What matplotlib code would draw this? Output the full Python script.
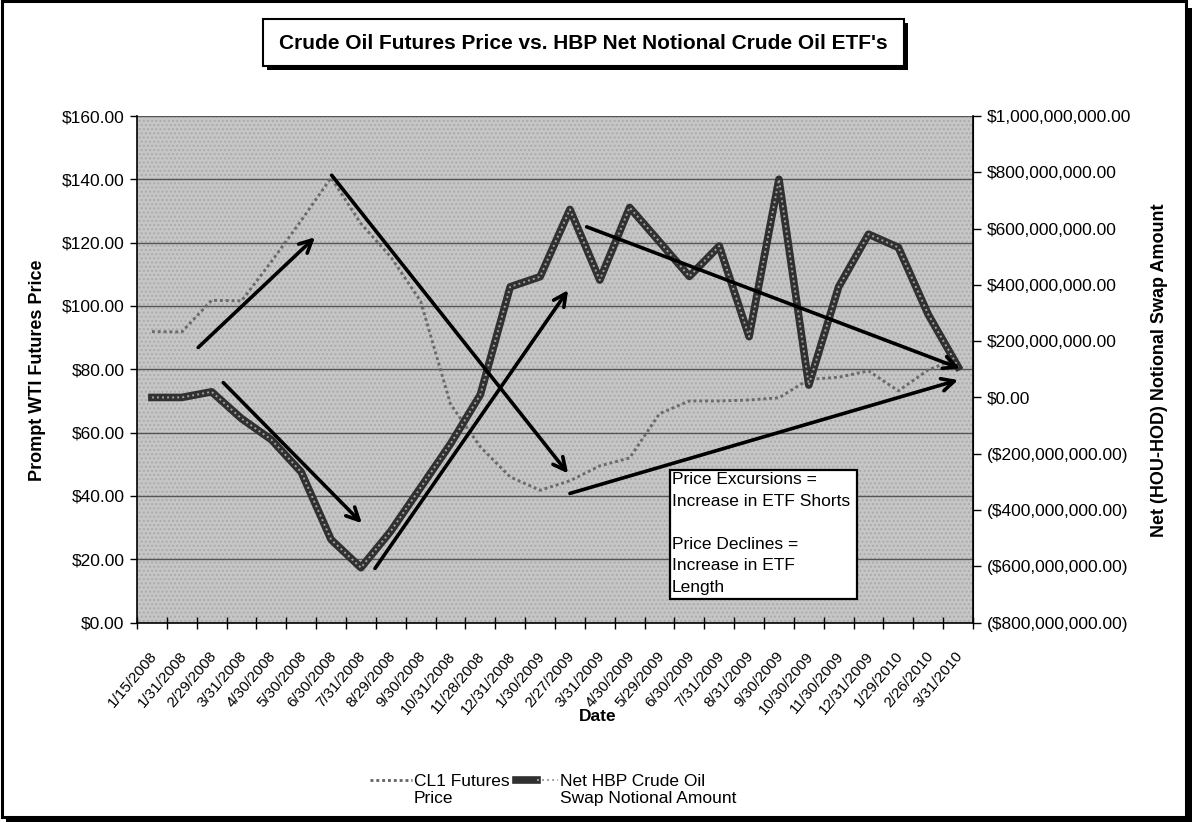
import matplotlib
matplotlib.use('Agg')
import matplotlib.pyplot as plt
import numpy as np
from matplotlib.patches import Rectangle
from matplotlib.ticker import FuncFormatter, FixedLocator
from matplotlib.legend_handler import HandlerTuple
from matplotlib.transforms import ScaledTranslation

plt.rcParams['font.family'] = ['Liberation Sans', 'DejaVu Sans']

# ---------------- data ----------------
dates = ["1/15/2008", "1/31/2008", "2/29/2008", "3/31/2008", "4/30/2008", "5/30/2008",
         "6/30/2008", "7/31/2008", "8/29/2008", "9/30/2008", "10/31/2008", "11/28/2008",
         "12/31/2008", "1/30/2009", "2/27/2009", "3/31/2009", "4/30/2009", "5/29/2009",
         "6/30/2009", "7/31/2009", "8/31/2009", "9/30/2009", "10/30/2009", "11/30/2009",
         "12/31/2009", "1/29/2010", "2/26/2010", "3/31/2010"]

cl1_price = [91.9, 91.8, 101.8, 101.6, 114.0, 127.0, 140.5, 126.0, 115.5, 101.5,
             69.0, 55.5, 46.0, 41.8, 44.8, 49.5, 52.0, 66.0, 70.0, 70.0,
             70.3, 71.0, 76.8, 77.5, 79.5, 73.2, 79.8, 83.5]

net_notional = [0, 0, 20e6, -75e6, -150e6, -265e6, -505e6, -605e6, -475e6, -320e6,
                -165e6, 10e6, 393e6, 429e6, 668e6, 417e6, 675e6, 553e6, 430e6, 538e6,
                216e6, 775e6, 44e6, 393e6, 580e6, 533e6, 295e6, 109e6]

price_ticks = [0, 20, 40, 60, 80, 100, 120, 140, 160]
notional_ticks = [-800e6, -600e6, -400e6, -200e6, 0, 200e6, 400e6, 600e6, 800e6, 1000e6]

# annotation arrows: (x_start, price_start, x_end, price_end) in category / price units
arrows = [
    (1.55, 86.9, 5.46, 121.7),
    (6.02, 141.3, 13.94, 47.1),
    (2.39, 75.8, 7.03, 31.4),
    (7.47, 17.1, 13.94, 105.0),
    (14.0, 40.8, 27.0, 76.6),
    (14.56, 125.0, 27.06, 80.3),
]

title = "Crude Oil Futures Price vs. HBP Net Notional Crude Oil ETF's"
note = "Price Excursions =\nIncrease in ETF Shorts\n\nPrice Declines =\nIncrease in ETF\nLength"

# ---------------- figure ----------------
W, H = 1192, 822
fig = plt.figure(figsize=(W / 100, H / 100), dpi=100)
fig.patch.set_facecolor('white')

def fx(px):
    return px / W

def fy(py):
    return 1 - py / H

L, R, T, B = 137, 973, 116, 622.6
ax = fig.add_axes([fx(L), fy(B), fx(R) - fx(L), fy(T) - fy(B)])
ax.set_facecolor('#c6c6c6')
ax.patch.set_hatch('....')
ax.patch.set_edgecolor('#ababab')
ax.patch.set_linewidth(0)

x = np.arange(len(dates))
ax.set_xlim(-0.5, len(dates) - 0.5)
ax.set_ylim(0, 160)

ax2 = ax.twinx()
ax2.set_ylim(-800e6, 1000e6)

# gridlines
ax.yaxis.set_major_locator(FixedLocator(price_ticks))
ax.grid(True, axis='y', color='#555555', linewidth=1.0)
ax.set_axisbelow(True)

# spines
for a in (ax, ax2):
    a.spines['top'].set_visible(False)
ax.spines['left'].set_linewidth(1.2)
ax.spines['bottom'].set_linewidth(1.2)
ax2.spines['right'].set_linewidth(1.2)
ax2.spines['left'].set_visible(False)
ax2.spines['bottom'].set_visible(False)

# series
l_cl1, = ax.plot(x, cl1_price, color='#6a6a6a', lw=2.1, ls=(0, (1, 1)), zorder=3)
l_net_outer, = ax2.plot(x, net_notional, color='#303030', lw=5.5, solid_joinstyle='round',
                        zorder=3)
l_net_inner, = ax2.plot(x, net_notional, color='#a0a0a0', lw=1.4, ls=(0, (1, 1.6)), zorder=4)

# arrows
for (x0, p0, x1, p1) in arrows:
    ax2.annotate('', xy=(x1, p1), xytext=(x0, p0),
                 xycoords=ax.transData, textcoords=ax.transData,
                 arrowprops=dict(arrowstyle='->,head_length=0.9,head_width=0.45',
                                 color='black', lw=2.6, shrinkA=0, shrinkB=0),
                 zorder=6)

# ticks
tick_fs = 12.5
ax.yaxis.set_major_formatter(FuncFormatter(lambda v, p: f"${v:.2f}"))
ax.tick_params(axis='y', which='major', length=5, direction='out', width=1,
               labelsize=tick_fs, pad=4)

def money(v, p=None):
    if v < 0:
        return f"(${abs(v):,.2f})"
    return f"${v:,.2f}"

ax2.yaxis.set_major_locator(FixedLocator(notional_ticks))
ax2.yaxis.set_major_formatter(FuncFormatter(money))
ax2.tick_params(axis='y', which='major', length=6, direction='out', width=1,
                labelsize=tick_fs, pad=4)

ax.set_xticks(x)
ax.set_xticklabels(dates, rotation=50, ha='right', rotation_mode='anchor', fontsize=11)
ax.tick_params(axis='x', which='major', length=0, pad=19)
shift = ScaledTranslation(-3 / 100, 0, fig.dpi_scale_trans)
for lab in ax.get_xticklabels():
    lab.set_transform(lab.get_transform() + shift)
ax.set_xticks(np.arange(-0.5, len(dates), 1.0), minor=True)
ax.tick_params(axis='x', which='minor', length=8, direction='inout', width=1)

# axis labels
fig.text(fx(38), fy(370), "Prompt WTI Futures Price", rotation=90, ha='center', va='center',
         fontsize=13, fontweight='bold')
fig.text(fx(1160), fy(370), "Net (HOU-HOD) Notional Swap Amount", rotation=90,
         ha='center', va='center', fontsize=13, fontweight='bold')
fig.text(fx(598), fy(716), "Date", ha='center', va='center', fontsize=12.5, fontweight='bold')

# annotation text box
bx0, by0, bx1, by1 = 669.5, 470, 856.5, 599
fig.patches.append(Rectangle((fx(bx0), fy(by1)), fx(bx1) - fx(bx0), fy(by0) - fy(by1),
                             transform=fig.transFigure, facecolor='white',
                             edgecolor='black', lw=1.6, zorder=7))
fig.text(fx(672), fy(472), note, ha='left', va='top', fontsize=12.5,
         linespacing=1.55, zorder=8)

# title box with shadow
tx0, ty0, tx1, ty1 = 263, 19, 904, 66
fig.patches.append(Rectangle((fx(tx0 + 4), fy(ty1 + 4)), fx(tx1) - fx(tx0), fy(ty0) - fy(ty1),
                             transform=fig.transFigure, facecolor='black', edgecolor='none'))
fig.patches.append(Rectangle((fx(tx0), fy(ty1)), fx(tx1) - fx(tx0), fy(ty0) - fy(ty1),
                             transform=fig.transFigure, facecolor='white', edgecolor='black', lw=1.5))
fig.text(fx((tx0 + tx1) / 2), fy((ty0 + ty1) / 2 + 1), title, ha='center', va='center',
         fontsize=15, fontweight='bold')


class TopAlignedTuple(HandlerTuple):
    """Place the legend sample level with the first line of a two-line label."""
    def create_artists(self, legend, orig_handle, xdescent, ydescent, width, height,
                       fontsize, trans):
        return super().create_artists(legend, orig_handle, xdescent,
                                      ydescent - 1.15 * fontsize, width, height,
                                      fontsize, trans)


# legend
leg = fig.legend([(l_cl1,), (l_net_outer, l_net_inner)],
                 ["CL1 Futures\nPrice", "Net HBP Crude Oil\nSwap Notional Amount"],
                 handler_map={tuple: TopAlignedTuple(ndivide=None, pad=0)},
                 loc='center', bbox_to_anchor=(fx(553), fy(790)), ncol=2, frameon=False,
                 fontsize=12.5, handlelength=2.4, handletextpad=0.1, columnspacing=0.4,
                 borderaxespad=0)

# outer chart frame with shadow
fig.patches.append(Rectangle((fx(1.5), fy(817)), fx(1186) - fx(1.5), fy(1.5) - fy(817),
                             transform=fig.transFigure, facecolor='none', edgecolor='black', lw=2.2))
fig.patches.append(Rectangle((fx(1186), fy(822)), fx(6), fy(0) - fy(814),
                             transform=fig.transFigure, facecolor='black', edgecolor='none'))
fig.patches.append(Rectangle((fx(6), fy(822)), fx(1186), fy(0) - fy(5),
                             transform=fig.transFigure, facecolor='black', edgecolor='none'))

fig.savefig('out.png', dpi=100)
